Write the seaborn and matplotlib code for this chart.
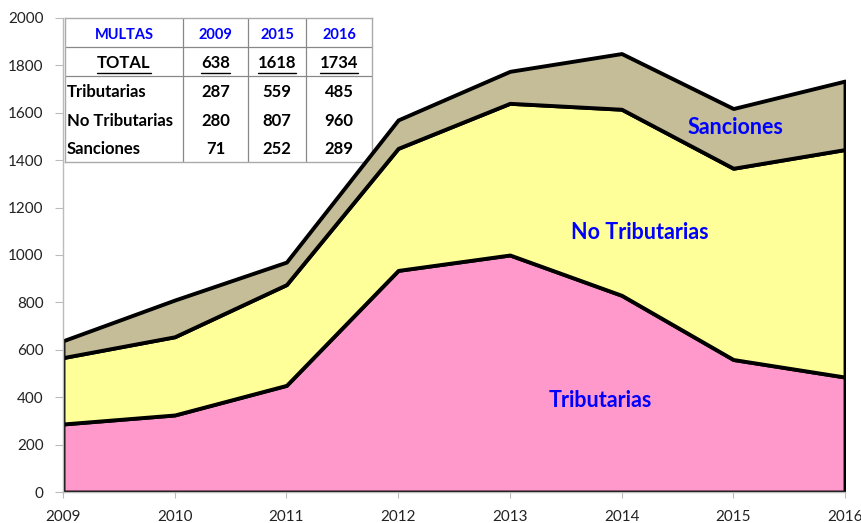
import matplotlib
matplotlib.use("Agg")
import matplotlib.pyplot as plt
import seaborn as sns

# data
years = [2009, 2010, 2011, 2012, 2013, 2014, 2015, 2016]
tributarias = [287, 325, 450, 935, 1000, 830, 559, 485]
no_tributarias = [280, 330, 425, 515, 640, 785, 807, 960]
sanciones = [71, 155, 95, 120, 135, 235, 252, 289]

table_header = ["MULTAS", "2009", "2015", "2016"]
table_total = ["TOTAL", "638", "1618", "1734"]
table_rows = [
    ["Tributarias", "287", "559", "485"],
    ["No Tributarias", "280", "807", "960"],
    ["Sanciones", "71", "252", "289"],
]

sns.set_style("white")
plt.rcParams["font.family"] = ["Lato", "DejaVu Sans"]

W, H = 862, 523
fig = plt.figure(figsize=(W / 100, H / 100), dpi=100)
ax = fig.add_axes([63 / W, (H - 492) / H, (845 - 63) / W, (492 - 18) / H])

ax.stackplot(years, tributarias, no_tributarias, sanciones,
             colors=["#FF99CC", "#FFFF99", "#C4BD97"],
             edgecolor="black", linewidth=2.8)

ax.set_xlim(2009, 2016)
ax.set_ylim(0, 2000)
ax.set_xticks(years)
ax.set_yticks(range(0, 2001, 200))
ax.tick_params(axis="both", labelsize=11, color="#BBBBBB",
               colors="#222222", direction="out")
ax.tick_params(axis="y", length=6, pad=8)
ax.tick_params(axis="x", length=4, pad=9)
for s in ["top", "right"]:
    ax.spines[s].set_visible(False)
for s in ["left", "bottom"]:
    ax.spines[s].set_color("#BBBBBB")
    ax.spines[s].set_linewidth(1)
ax.tick_params(axis="both", which="both", bottom=True, left=True)

# area labels
lab = dict(color="#0000FF", fontsize=15.5, fontweight="bold", ha="center", va="center")
ax.text(2015.02, 1536, "Sanciones", **lab)
ax.text(2014.165, 1097, "No Tributarias", **lab)
ax.text(2013.81, 384, "Tributarias", **lab)

# table drawn in pixel units of its own axes, placed behind the chart
tx0, ty0, tx1, ty1 = 65, 18, 372, 162
tab = fig.add_axes([tx0 / W, (H - ty1) / H, (tx1 - tx0) / W, (ty1 - ty0) / H])
tab.set_zorder(0)
ax.set_zorder(1)
ax.patch.set_alpha(0)
tab.set_xlim(0, tx1 - tx0)
tab.set_ylim(ty1 - ty0, 0)
tab.set_facecolor("white")
tab.set_xticks([])
tab.set_yticks([])
for s in tab.spines.values():
    s.set_color("#AAAAAA")
    s.set_linewidth(1)

col_edges = [0, 118, 183, 241, 307]
for cx in col_edges[1:-1]:
    tab.plot([cx, cx], [0, 144], color="#888888", lw=0.9)
for ry in [29, 58]:
    tab.plot([0, 307], [ry, ry], color="#888888", lw=0.9)

centers = [(col_edges[i] + col_edges[i + 1]) / 2 for i in range(4)]
fs = 12
for i, txt in enumerate(table_header):
    tab.text(centers[i], 17, txt, color="#0000FF", fontsize=10.5,
             fontweight="bold", ha="center", va="center")

fig.canvas.draw()
rend = fig.canvas.get_renderer()
inv = tab.transData.inverted()
for i, txt in enumerate(table_total):
    t = tab.text(centers[i], 45, txt, color="black", fontsize=fs,
                 fontweight="bold", ha="center", va="center")
    bb = t.get_window_extent(renderer=rend)
    (x0, _), (x1, _) = inv.transform([(bb.x0, bb.y0), (bb.x1, bb.y0)])
    tab.plot([x0, x1], [54.5, 54.5], color="black", lw=1)

for r, row in enumerate(table_rows):
    y = 74 + r * 28.5
    for i, txt in enumerate(row):
        if i == 0:
            tab.text(2, y, txt, color="black", fontsize=fs, fontweight="bold",
                     ha="left", va="center")
        else:
            tab.text(centers[i], y, txt, color="black", fontsize=fs,
                     fontweight="bold", ha="center", va="center")

fig.savefig("out.png", dpi=100)
